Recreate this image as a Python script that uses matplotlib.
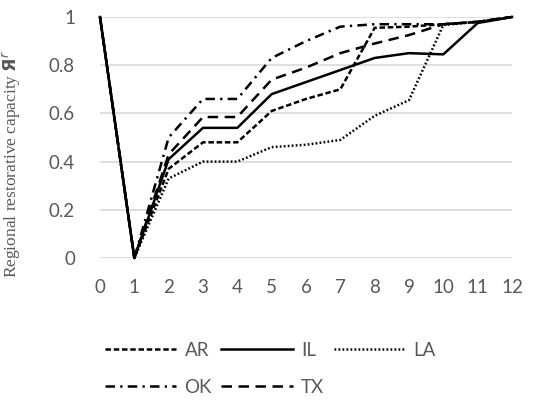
import matplotlib.pyplot as plt

# time steps and regional restorative capacity per state
steps = list(range(13))
ar = [1, 0, 0.37, 0.48, 0.48, 0.61, 0.66, 0.70, 0.955, 0.96, 0.97, 0.98, 1]
il = [1, 0, 0.41, 0.54, 0.54, 0.68, 0.73, 0.78, 0.83, 0.85, 0.845, 0.975, 1]
la = [1, 0, 0.33, 0.40, 0.40, 0.46, 0.47, 0.49, 0.59, 0.655, 0.967, 0.98, 1]
ok = [1, 0, 0.50, 0.66, 0.66, 0.83, 0.90, 0.96, 0.97, 0.97, 0.97, 0.98, 1]
tx = [1, 0, 0.43, 0.585, 0.585, 0.74, 0.79, 0.85, 0.89, 0.925, 0.97, 0.98, 1]
y_ticks = [0, 0.2, 0.4, 0.6, 0.8, 1]
y_tick_labels = ['0', '0.2', '0.4', '0.6', '0.8', '1']

text_col = '#595959'
plt.rcParams['font.family'] = ['Lato', 'DejaVu Sans']

fig = plt.figure(figsize=(5.34, 4.04), dpi=100)
ax = fig.add_axes([100 / 534, 1 - 258 / 404, 412 / 534, 241 / 404])

lw = 1.8
l_ar, = ax.plot(steps, ar, color='black', lw=lw, dashes=(2.2, 1.1), label='AR', clip_on=False)
l_il, = ax.plot(steps, il, color='black', lw=lw, label='IL', clip_on=False)
l_la, = ax.plot(steps, la, color='black', lw=lw, dashes=(0.7, 0.9), label='LA', clip_on=False)
l_ok, = ax.plot(steps, ok, color='black', lw=lw, dashes=(3.8, 2.1, 0.9, 2.1), label='OK', clip_on=False)
l_tx, = ax.plot(steps, tx, color='black', lw=lw, dashes=(4.2, 2.6), label='TX', clip_on=False)

ax.set_xlim(0, 12)
ax.set_ylim(0, 1)
ax.set_xticks(steps)
ax.set_yticks(y_ticks)
ax.set_yticklabels(y_tick_labels)
ax.grid(axis='y', color='#d9d9d9', lw=1.2)
ax.set_axisbelow(True)
for s in ax.spines.values():
    s.set_visible(False)
ax.tick_params(length=0, labelsize=13.5, labelcolor=text_col)
ax.tick_params(axis='x', pad=15)
ax.tick_params(axis='y', pad=18)

ax.set_ylabel('Regional restorative capacity $\\mathbf{Я}^r$', family='Liberation Serif',
              fontsize=12.5, color=text_col)
ax.yaxis.set_label_coords(-0.186, 0.39)

# legend fills column by column, so order gives rows AR IL LA / OK TX
handles = [l_ar, l_ok, l_il, l_tx, l_la]
fig.legend(handles=handles, labels=[h.get_label() for h in handles],
           loc='upper left', bbox_to_anchor=(88 / 534, 1 - 325 / 404), ncol=3,
           frameon=False, fontsize=13.5, labelcolor=text_col, handlelength=3.8,
           handletextpad=0.45, columnspacing=0.5, labelspacing=1.05)

fig.savefig('out.png', dpi=100)
